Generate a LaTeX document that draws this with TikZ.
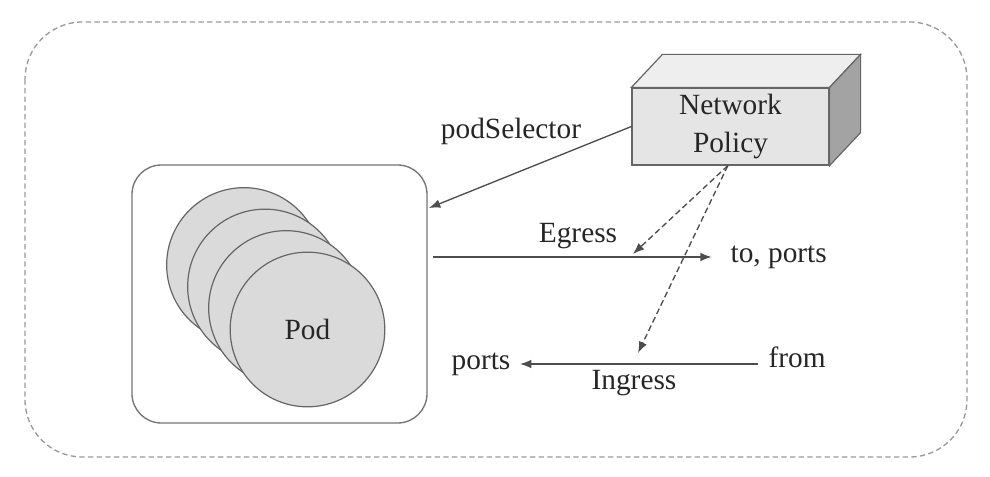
\documentclass[tikz,border=0pt]{standalone}
\usepackage{fontspec}
\setmainfont{Liberation Serif}
\usepackage{tikz}
\usetikzlibrary{arrows.meta,shapes,positioning,calc}

\definecolor{linegray}{HTML}{4D4D4D}
\definecolor{framegray}{HTML}{9A9A9A}
\definecolor{podfill}{HTML}{DADADA}
\definecolor{frontfill}{HTML}{E5E5E5}
\definecolor{topfill}{HTML}{EEEEEE}
\definecolor{sidefill}{HTML}{A3A3A3}

\begin{document}
\begin{tikzpicture}
	[x=0.75pt, y=-0.75pt,
	 font=\fontsize{22}{28.5}\selectfont, text=black!85,
	 pod/.style={circle, draw=black!60, line width=0.9pt, fill=podfill, minimum size=116pt, inner sep=0pt},
	 podbox/.style={rectangle, rounded corners=22pt, draw=black!55, line width=1pt, minimum width=221.25pt, minimum height=193.5pt},
	 policy/.style={rectangle, draw=black!60, line width=0.9pt, fill=frontfill, minimum width=147.75pt, minimum height=57.75pt, align=center, inner sep=0pt},
	 flow/.style={-{Latex[length=8.5pt,width=6.5pt]}, line width=1pt, draw=linegray},
	 rule/.style={-{Latex[length=8.5pt,width=6.5pt]}, line width=1pt, draw=linegray, dash pattern=on 4.5pt off 2.5pt},
	 lbl/.style={inner sep=1pt}]
	\useasboundingbox (0,0) rectangle (990,477);

	% outer frame
	\draw[framegray, line width=1pt, dash pattern=on 4pt off 2.5pt, rounded corners=43pt] (25,22) rectangle (967,457);

	% pods
	\node[podbox] (box) at (279.5,294) {};
	\node[pod] (p1) at (244,265) {};
	\node[pod] (p2) at (265,286.5) {};
	\node[pod] (p3) at (286,308) {};
	\node[pod] (p4) at (307.5,329.5) {Pod};

	% network policy box
	\node[policy] (np) at (730.5,126.5) {Network\\Policy};
	\draw[black!60, line width=0.9pt, fill=topfill] (np.north west) -- ++(31,-33) -- ($(np.north east)+(31,-33)$) -- (np.north east) -- cycle;
	\draw[black!60, line width=0.9pt, fill=sidefill] (np.north east) -- ++(31,-33) -- ($(np.south east)+(31,-33)$) -- (np.south east) -- cycle;

	% labels
	\node[lbl] (sel) at (511,131) {podSelector};
	\node[lbl, anchor=west] (to) at (729,257) {to, ports};
	\node[lbl, anchor=east] (ports) at (512,364) {ports};
	\node[lbl, anchor=west] (from) at (767,357) {from};
	\node[lbl] (eg) at (578,236) {Egress};
	\node[lbl] (ing) at (634,383) {Ingress};

	\coordinate (selend) at (429,208);
	\coordinate (egpt) at (633,254);
	\coordinate (ingpt) at (638,353);

	% connectors
	\draw[flow] (np.west) -- (selend);
	\draw[flow, shorten <=4pt, shorten >=13pt] (to.west -| box.east) -- (to.west);
	\draw[flow, shorten >=6pt] (758,364) coordinate (ingstart) -- (ports.east |- ingstart);
	\draw[rule] ([xshift=-2pt]np.south) -- (egpt);
	\draw[rule] ([xshift=-2pt]np.south) -- (ingpt);
\end{tikzpicture}
\end{document}
